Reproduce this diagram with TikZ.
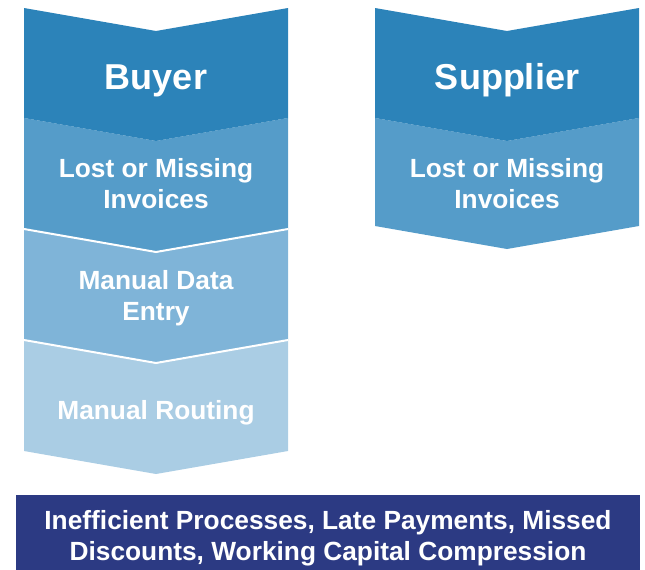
\documentclass[tikz,border=0pt]{standalone}
\usepackage{fontspec}
\setmainfont{Liberation Sans}
\definecolor{cA}{HTML}{2C83B9}
\definecolor{cB}{HTML}{559CC9}
\definecolor{cC}{HTML}{7FB4D8}
\definecolor{cD}{HTML}{AACDE4}
\definecolor{cE}{HTML}{2C3A83}
\tikzset{
  headtxt/.style={text=white, font=\fontsize{36}{40}\selectfont\bfseries, anchor=base, inner sep=0pt},
  bodytxt/.style={text=white, font=\fontsize{26.3}{31}\selectfont\bfseries, anchor=base, inner sep=0pt, align=center},
  sepline/.style={draw=white, line width=2pt},
}
\newcommand{\chev}[5]{% color, L, R, top, height
  \pgfmathsetmacro{\cx}{(#2+#3)/2}%
  \fill[#1] (#2,#4) -- (\cx,#4+23) -- (#3,#4) -- (#3,#4+#5) -- (\cx,#4+#5+23) -- (#2,#4+#5) -- cycle;
}
\begin{document}
\begin{tikzpicture}[x=1pt,y=-1pt]
\useasboundingbox (0,0) rectangle (645,570);
% Buyer column
\chev{cD}{24}{288}{340}{111}
\chev{cC}{24}{288}{229}{111}
\chev{cB}{24}{288}{118}{111}
\chev{cA}{24}{288}{8}{110}
\draw[sepline] (24,229) -- (156,252) -- (288,229);
\draw[sepline] (24,340) -- (156,363) -- (288,340);
% Supplier column
\chev{cB}{375}{639}{118}{108}
\chev{cA}{375}{639}{8}{110}
% texts
\node[headtxt] (buyer) at (156,89) {Buyer};
\node[bodytxt] (b1) at (156,208) {Lost or Missing\\Invoices};
\node[bodytxt] (b2) at (156,320) {Manual Data\\Entry};
\node[bodytxt] (b3) at (156,419) {Manual Routing};
\node[headtxt] (supplier) at (507,89) {Supplier};
\node[bodytxt] (s1) at (507,208) {Lost or Missing\\Invoices};
% bottom box
\fill[cE] (16,495) rectangle (640,570);
\node[bodytxt] (result) at (328,560) {Inefficient Processes, Late Payments, Missed\\Discounts, Working Capital Compression};
\end{tikzpicture}
\end{document}
